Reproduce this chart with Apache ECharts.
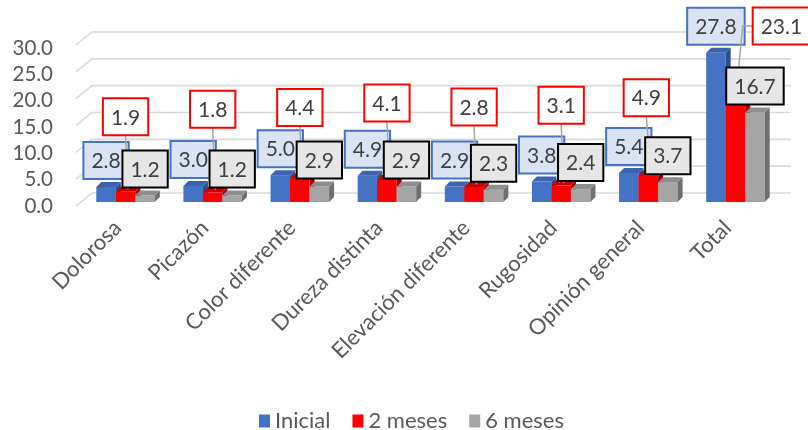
<!DOCTYPE html>
<html>
<head>
<meta charset="utf-8">
<script src="https://cdn.jsdelivr.net/npm/echarts@6/dist/echarts.min.js"></script>
<style>
  html, body { margin: 0; padding: 0; background: #ffffff; }
  #chart { width: 808px; height: 430px; }
</style>
</head>
<body>
<div id="chart"></div>
<script>
// ---- data ----
const categories = ['Dolorosa', 'Picazón', 'Color diferente', 'Dureza distinta',
  'Elevación diferente', 'Rugosidad', 'Opinión general', 'Total'];
const inicial = [2.8, 3.0, 5.0, 4.9, 2.9, 3.8, 5.4, 27.8];
const meses2  = [1.9, 1.8, 4.4, 4.1, 2.8, 3.1, 4.9, 23.1];
const meses6  = [1.2, 1.2, 2.9, 2.9, 2.3, 2.4, 3.7, 16.7];
const seriesNames = ['Inicial', '2 meses', '6 meses'];
const yTicks = [0, 5, 10, 15, 20, 25, 30];

// ---- label placement (centre of each value box relative to its column top, px) ----
const labelOffsetDefault = [0, -26.5];
const labelOffsets2m = [[0, -75], [0, -83], [0, -71], [0, -77], [0, -80], [0, -80], [-2, -78], [46, -52]];

// ---- styles ----
const FONT = 'Lato, "Liberation Sans", sans-serif';
const DEPTH_X = 5, DEPTH_Y = -5;           // fake 3D depth of the columns
const BAR_FRACTION = 0.224;                // column width as a share of the category band
const palette = [
  { front: '#4472c4', top: '#3b64b0', side: '#2c4f8f', box: '#dae3f3', border: '#4472c4' },
  { front: '#ff0000', top: '#cc0000', side: '#a00000', box: '#ffffff', border: '#ff0000' },
  { front: '#a5a5a5', top: '#8e8e8e', side: '#6f6f6f', box: '#e7e6e6', border: '#000000' }
];
const allValues = [inicial, meses2, meses6];

const measureCtx = document.createElement('canvas').getContext('2d');
function textWidth(t) {
  measureCtx.font = '21px ' + FONT;
  return measureCtx.measureText(t).width;
}

function columnGeometry(api, k) {
  const idx = api.value(0), v = api.value(1);
  const base = api.coord([idx, 0]);
  const top = api.coord([idx, v]);
  const w = api.size([1, 0])[0] * BAR_FRACTION;
  const cx = base[0] + (k - 1) * w;
  return { cx, w, x0: cx - w / 2, x1: cx + w / 2, yTop: top[1], yBase: base[1], idx, v };
}

// back-wall gridlines with their slanted left edge
function renderWall(params, api) {
  const y = api.coord([0, api.value(1)])[1];
  const cs = params.coordSys;
  return {
    type: 'polyline',
    shape: { points: [[cs.x - 6, y + 4], [cs.x + 10, y - 9], [cs.x + cs.width + 12, y - 9]] },
    style: { stroke: '#d9d9d9', lineWidth: 1.6, fill: null }
  };
}

function makeColumnRenderer(k) {
  const c = palette[k];
  return function (params, api) {
    const g = columnGeometry(api, k);
    const tY = g.yTop, bY = g.yBase;
    return {
      type: 'group',
      children: [
        { type: 'rect', shape: { x: g.x0, y: tY, width: g.w, height: bY - tY }, style: { fill: c.front } },
        { type: 'polygon', shape: { points: [[g.x1, tY], [g.x1, bY], [g.x1 + DEPTH_X, bY + DEPTH_Y], [g.x1 + DEPTH_X, tY + DEPTH_Y]] },
          style: { fill: c.side } },
        { type: 'polygon', shape: { points: [[g.x0, tY], [g.x1, tY], [g.x1 + DEPTH_X, tY + DEPTH_Y], [g.x0 + DEPTH_X, tY + DEPTH_Y]] },
          style: { fill: c.top } }
      ]
    };
  };
}

function makeLabelRenderer(k, offsets) {
  const c = palette[k];
  return function (params, api) {
    const g = columnGeometry(api, k);
    const off = offsets ? offsets[g.idx] : labelOffsetDefault;
    const txt = g.v.toFixed(1);
    const bx = g.cx + off[0], by = g.yTop + off[1];
    const boxW = textWidth(txt) + 16, boxH = 37;
    const children = [];
    const tipX = g.cx + DEPTH_X / 2, tipY = g.yTop + DEPTH_Y / 2;
    if (Math.abs(off[0]) > 20) {
      const sx = bx - boxW / 2;
      children.push({ type: 'polyline', shape: { points: [[sx, by], [sx - 10, by], [tipX, tipY]] },
        style: { stroke: '#a6a6a6', lineWidth: 1.5, fill: null } });
    } else if (off[1] < -40) {
      children.push({ type: 'line', shape: { x1: bx, y1: by + boxH / 2, x2: tipX, y2: tipY },
        style: { stroke: '#a6a6a6', lineWidth: 1.5 } });
    }
    children.push({
      type: 'rect',
      shape: { x: bx - boxW / 2, y: by - boxH / 2, width: boxW, height: boxH },
      style: { fill: c.box, stroke: c.border, lineWidth: 2 }
    });
    children.push({
      type: 'text',
      x: bx, y: by + 1,
      style: { text: txt, fontSize: 21, fontFamily: FONT, fill: '#404040', align: 'center', verticalAlign: 'middle' }
    });
    return { type: 'group', children };
  };
}

const series = [];
series.push({
  type: 'custom', name: 'wall', xAxisIndex: 0, yAxisIndex: 0, z: 0, silent: true, clip: false,
  data: yTicks.map(v => [0, v]), encode: { x: 0, y: 1 }, renderItem: renderWall
});
allValues.forEach((vals, k) => {
  series.push({
    type: 'custom', name: seriesNames[k], xAxisIndex: 0, yAxisIndex: 0, z: 2, clip: false,
    itemStyle: { color: palette[k].front },
    data: vals.map((v, i) => [i, v]), encode: { x: 0, y: 1 }, renderItem: makeColumnRenderer(k)
  });
});
allValues.forEach((vals, k) => {
  series.push({
    type: 'custom', name: seriesNames[k] + ' etiqueta', xAxisIndex: 0, yAxisIndex: 0, z: 3 + k, clip: false, silent: true,
    data: vals.map((v, i) => [i, v]), encode: { x: 0, y: 1 },
    renderItem: makeLabelRenderer(k, k === 1 ? labelOffsets2m : null)
  });
});

const chart = echarts.init(document.getElementById('chart'), null, { renderer: 'canvas' });
chart.setOption({
  animation: false,
  backgroundColor: '#ffffff',
  textStyle: { fontFamily: FONT },
  grid: [
    { left: 82, right: 29, top: 41, bottom: 228 },
    { left: 82, right: 29, top: 48, bottom: 224 }
  ],
  xAxis: [
    { type: 'category', gridIndex: 0, data: categories, boundaryGap: true,
      axisLine: { show: false }, axisTick: { show: false }, splitLine: { show: false },
      axisLabel: { interval: 0, rotate: 45, margin: 30, verticalAlign: 'bottom',
        fontSize: 22, color: '#595959', fontFamily: FONT } },
    { type: 'category', gridIndex: 1, data: categories, show: false }
  ],
  yAxis: [
    { type: 'value', gridIndex: 0, min: 0, max: 30, interval: 5, show: false, splitLine: { show: false } },
    { type: 'value', gridIndex: 1, min: 0, max: 30, interval: 5,
      axisLine: { show: false }, axisTick: { show: false }, splitLine: { show: false },
      axisLabel: { margin: 29, fontSize: 20.5, color: '#595959', fontFamily: FONT, formatter: v => v.toFixed(1) } }
  ],
  legend: {
    data: seriesNames, left: 254, top: 405, icon: 'rect', itemWidth: 11, itemHeight: 13, itemGap: 22,
    textStyle: { fontSize: 22, color: '#595959', fontFamily: FONT }
  },
  series
});
</script>
</body>
</html>
